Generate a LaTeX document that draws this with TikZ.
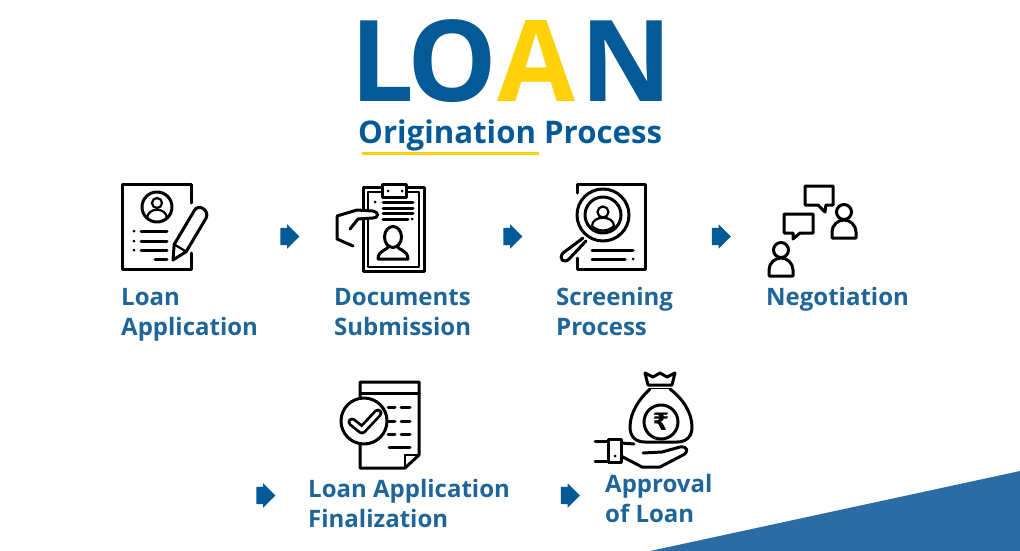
\documentclass[tikz,border=0pt]{standalone}
\usepackage{fontspec}
\setmainfont{Open Sans}
\newfontfamily\symbfont{DejaVu Sans}
\usetikzlibrary{shapes.arrows}
\definecolor{loanblue}{HTML}{045A96}
\definecolor{labelblue}{HTML}{1F6598}
\definecolor{loanyellow}{HTML}{FFD10A}
\definecolor{cornerblue}{HTML}{2A6CA3}
\tikzset{
  titleletter/.style = {anchor=base west, inner sep=0pt, font=\fontsize{113}{113}\selectfont\bfseries},
  steplabel/.style = {anchor=base west, inner sep=0pt, align=left, text=labelblue,
    font=\fontsize{24}{30}\selectfont\bfseries},
  stepmark/.style = {single arrow, fill=loanblue, draw=none, inner sep=0pt,
    minimum height=19pt, single arrow head extend=3.5pt,
    single arrow head indent=0pt},
  icon/.style = {draw=black, line width=3pt, line cap=round, line join=round},
  thin icon/.style = {icon, line width=2.2pt},
  pics/bust/.style = {code = {
    \draw[icon, fill=white] (0,-26) circle (7.5);
    \draw[icon, fill=white] (-12,0) -- (-12,-6) .. controls (-12,-13) and (-6,-18) .. (0,-18)
      .. controls (6,-18) and (12,-13) .. (12,-6) -- (12,0) -- cycle;
  }}
}
\newcommand{\marksize}{\rule{0pt}{17pt}}
\begin{document}
\begin{tikzpicture}[x=1pt, y=-1pt]
  \useasboundingbox (0,0) rectangle (1020,551);
  \fill[cornerblue] (650,551) -- (1020,471) -- (1020,551) -- cycle;

  \node[titleletter, text=loanblue] (letterL) at (350,101) {L};
  \node[titleletter, text=loanblue] (letterO) at (407,101) {O};
  \node[titleletter, text=loanyellow] (letterA) at (497,101) {A};
  \node[titleletter, text=loanblue] (letterN) at (580,101) {N};
  \node[anchor=base west, inner sep=0pt, text=loanblue,
    font=\fontsize{31.2}{32}\selectfont\bfseries] (subtitle) at (358,143) {Origination Process};
  \fill[loanyellow] (362,151.5) rectangle (539,154.5);

  % first row
  \draw[icon] (191,203) -- (191,184) -- (122,184) -- (122,269) -- (191,269) -- (191,253);
  \draw[icon] (157,207) circle (15);
  \draw[thin icon] (157,203) circle (5);
  \draw[thin icon] (147,218) .. controls (148,207) and (166,207) .. (167,218);
  \draw[icon] (141,231) -- (167,231) (141,241) -- (167,241) (141,250) -- (167,250) (155,259) -- (167,259);
  \foreach \y in {231,241,250} \fill (134,\y) circle (1.5);
  \draw[icon] (173,260) -- (174.2,244.4) -- (194.1,210.9) .. controls (198,203) and (210,210) .. (206.1,218.1)
    -- (186.2,251.6) -- cycle;
  \draw[thin icon] (174.2,244.4) -- (186.2,251.6);

  \node[steplabel] (apply) at (121,335) {Loan\\Application};
  \node[stepmark] (markone) at (285.5,236.5) {\marksize};

  \draw[icon] (363,187) rectangle (424,271);
  \draw[thin icon] (368,192) rectangle (419,267);
  \draw[icon, fill=white] (382,184) rectangle (406,197);
  \foreach \x in {388,402} \fill (\x,191) circle (1.5);
  \draw[icon] (383,202) -- (413,202) (383,208) -- (413,208) (383,213) -- (413,213) (383,219) -- (408,219);
  \fill (375,202) circle (1.5);
  \fill (412,219) circle (1.5);
  \fill[white] (337,216) -- (357,210) -- (373,211) -- (373,218) -- (358,219) -- (353,246) -- (337,239) -- cycle;
  \draw[icon] (337,216) -- (357,210) -- (373,211) .. controls (379,212) and (379,218) .. (373,218)
    -- (358,219) -- (350,229) (337,216) -- (337,239) -- (353,246);
  \draw[icon] (393,237) ellipse (8.5 and 10.5);
  \draw[icon] (378,259) -- (408,259) .. controls (408,250) and (398,250) .. (397,246)
    (378,259) .. controls (378,250) and (388,250) .. (389,246);

  \node[steplabel] (documents) at (334,335) {Documents\\Submission};
  \node[stepmark] (marktwo) at (508.5,236.5) {\marksize};

  \draw[icon] (577,193) -- (577,184) -- (645,184) -- (645,269) -- (577,269) -- (577,258);
  \draw[icon, fill=white] (603,215) circle (26);
  \draw[icon] (603,215) circle (18);
  \draw[thin icon] (603,212) circle (5.5);
  \draw[thin icon] (592,226) .. controls (592,215) and (614,215) .. (614,226) .. controls (608,232) and (598,232) .. (592,226);
  \draw[icon, fill=white] (583,238) -- (563,253) .. controls (558,259) and (564,264) .. (569,259) -- (586,241);
  \draw[icon] (592,250) -- (633,250) (592,259) -- (625,259);
  \fill (633,259) circle (1.5);

  \node[steplabel] (screening) at (556,335) {Screening\\Process};
  \node[stepmark] (markthree) at (717,236.5) {\marksize};

  \draw[icon] (805,186) -- (833,186) -- (833,205) -- (826,205) -- (825,212) -- (818,205) -- (805,205) -- cycle;
  \draw[icon] (784,214) -- (813,214) -- (813,233) -- (800,233) -- (793,239) -- (793,233) -- (784,233) -- cycle;
  \pic at (844,238) {bust};
  \pic at (781,276) {bust};

  \node[steplabel] (negotiation) at (766,305) {Negotiation};

  % second row
  \node[stepmark] (markfour) at (261.5,495.5) {\marksize};

  \draw[icon] (360,400) -- (360,382) -- (419,382) -- (419,455) -- (405,468) -- (360,468) -- (360,445);
  \draw[icon] (360,393) -- (419,393);
  \draw[thin icon] (419,455) -- (405,455) -- (405,468);
  \draw[icon, fill=white] (364,421) circle (23);
  \draw[black, line width=9pt, line cap=round, line join=round] (352,422) -- (362,430) -- (378,413);
  \draw[white, line width=3.5pt, line cap=round, line join=round] (352,422) -- (362,430) -- (378,413);
  \draw[icon] (388,407) -- (395,407) (401,407) -- (410,407) (388,421) -- (395,421) (401,421) -- (410,421)
    (388,434) -- (395,434) (401,434) -- (410,434) (389,447) -- (410,447);

  \node[steplabel] (finalize) at (308,527) {Loan Application\\Finalization};
  \node[stepmark] (markfive) at (566,495.5) {\marksize};

  \draw[icon] (648,385) -- (645,373) -- (653,377) -- (660,373) -- (667,377) -- (675,373) -- (672,385) -- cycle;
  \draw[icon] (650,389) -- (670,389);
  \draw[icon, fill=white] (650,389) .. controls (640,398) and (630,412) .. (630,427)
    .. controls (630,437) and (636,442) .. (645,442) -- (677,442)
    .. controls (686,442) and (692,437) .. (692,427) .. controls (692,412) and (682,398) .. (670,389);
  \draw[icon] (661,422) circle (17);
  \node[inner sep=0pt, font=\symbfont\fontsize{24}{24}\selectfont\bfseries] (rupee) at (661,422) {₹};

  \draw[icon, fill=white] (621,443) -- (634,444) (643,453) -- (662,452) -- (680,447)
    .. controls (688,446) and (689,452) .. (683,455) -- (660,467) -- (642,467) -- (621,456);
  \draw[icon, fill=white] (608,439) rectangle (621,462);
  \fill (615,456) circle (1.5);
  \draw[icon] (595,441) -- (608,441) (595,461) -- (608,461);

  \node[steplabel] (approval) at (605,522) {Approval\\of Loan};
\end{tikzpicture}
\end{document}
